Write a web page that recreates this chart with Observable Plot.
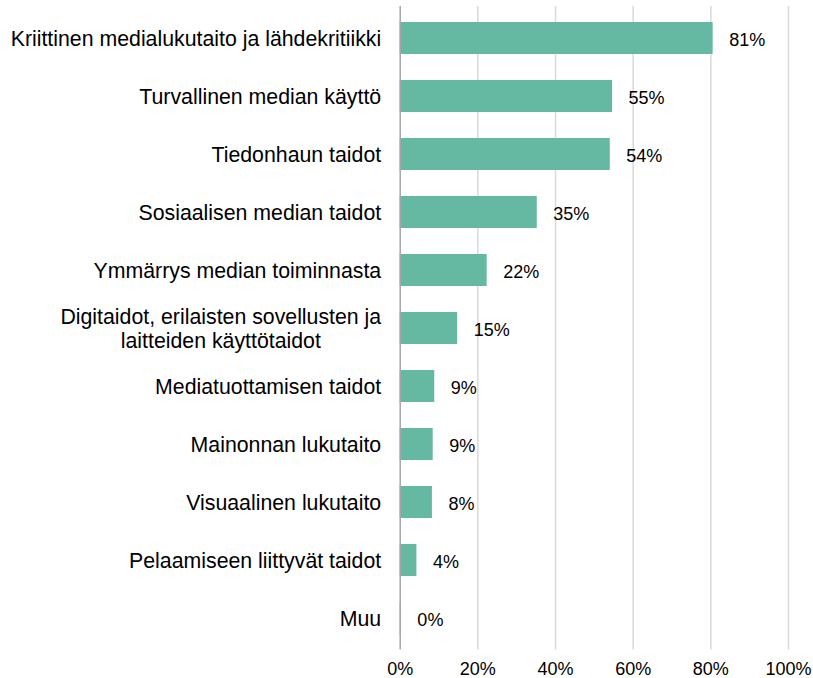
<!DOCTYPE html>
<html>
<head>
<meta charset="utf-8">
<script src="https://cdn.jsdelivr.net/npm/d3@7"></script>
<script src="https://cdn.jsdelivr.net/npm/@observablehq/plot@0.6"></script>
<style>
  html, body { margin: 0; padding: 0; background: #fff; }
  #chart { width: 813px; height: 678px; }
</style>
</head>
<body>
<div id="chart"></div>
<script>
const categories = [
  "Kriittinen medialukutaito ja lähdekritiikki",
  "Turvallinen median käyttö",
  "Tiedonhaun taidot",
  "Sosiaalisen median taidot",
  "Ymmärrys median toiminnasta",
  "Digitaidot, erilaisten sovellusten ja\nlaitteiden käyttötaidot",
  "Mediatuottamisen taidot",
  "Mainonnan lukutaito",
  "Visuaalinen lukutaito",
  "Pelaamiseen liittyvät taidot",
  "Muu"
];
const values = [80.6, 54.7, 54.1, 35.3, 22.4, 14.8, 8.9, 8.5, 8.3, 4.3, 0.3];
const xTicks = [0, 20, 40, 60, 80, 100];

const data = categories.map((c, i) => ({category: c, value: values[i]}));
const fmt = v => Math.round(v) + "%";

const chart = Plot.plot({
  width: 813,
  height: 678,
  marginTop: 6,
  marginBottom: 28.5,
  marginLeft: 399.7,
  marginRight: 25,
  style: {fontFamily: "Arial, 'Liberation Sans', sans-serif", color: "#000", background: "#fff"},
  x: {domain: [0, 100], label: null},
  y: {domain: categories, paddingInner: 0.44, paddingOuter: 0.22, label: null, axis: null},
  marks: [
    Plot.ruleX(xTicks.filter(t => t > 0), {stroke: "#d9d9d9", strokeWidth: 1.5}),
    Plot.barX(data, {y: "category", x: "value", fill: "#65b8a1"}),
    Plot.ruleX([0], {stroke: "#a6a6a6", strokeWidth: 1.5}),
    Plot.text(data, {y: "category", x: "value", text: d => fmt(d.value), textAnchor: "start", dx: 16, dy: 1.5, fontSize: 18, fill: "#000"}),
    Plot.text(categories, {y: d => d, frameAnchor: "left", textAnchor: "end", dx: -19, fontSize: 21.3, lineHeight: 1.13, fill: "#000"}),
    Plot.axisX({ticks: xTicks, tickFormat: d => d + "%", tickSize: 0, tickPadding: 12, fontSize: 18, label: null, fill: "#000"})
  ]
});
document.getElementById("chart").appendChild(chart);

// center-align multi-line category labels (as in the reference)
chart.querySelectorAll("text").forEach(t => {
  const spans = t.querySelectorAll("tspan");
  if (spans.length > 1) {
    let maxW = 0;
    spans.forEach(s => { maxW = Math.max(maxW, s.getComputedTextLength()); });
    t.setAttribute("text-anchor", "middle");
    spans.forEach(s => s.setAttribute("x", -maxW / 2));
  }
});
</script>
</body>
</html>
